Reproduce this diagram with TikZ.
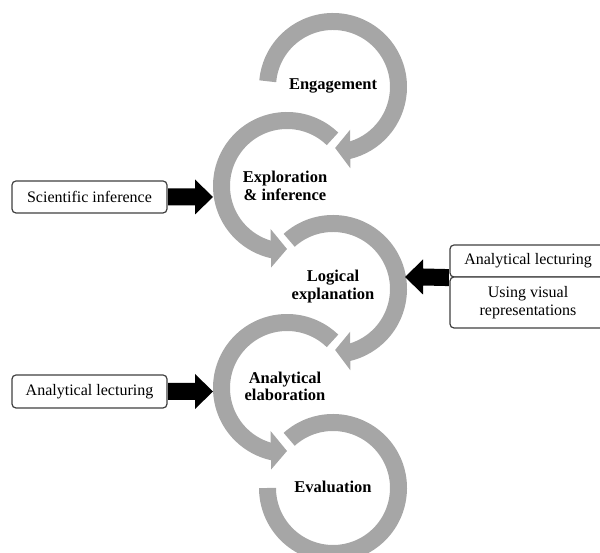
\documentclass[tikz,border=0pt]{standalone}
\usepackage{fontspec}
\setmainfont{Liberation Serif}
\usetikzlibrary{calc}
\definecolor{ringgray}{HTML}{A6A6A6}
\definecolor{boxline}{HTML}{404040}
\begin{document}
\begin{tikzpicture}[x=1pt,y=1pt,
  ring/.style={draw=ringgray, line width=17pt},
  ringhead/.style={fill=ringgray},
  stage/.style={font=\fontsize{16.5}{17.5}\selectfont\bfseries, align=center, inner sep=0pt},
  infobox/.style={draw=boxline, line width=1.2pt, rounded corners=4pt, fill=white,
    minimum width=155pt, inner sep=0pt, font=\fontsize{16}{18}\selectfont, align=center},
  blockarrow/.style={fill=black}]
\useasboundingbox (0,0) rectangle (600,553);
\clip (0,0) rectangle (600,553);

% ring centres
\coordinate (c1) at (333,466);
\coordinate (c2) at (287,367);
\coordinate (c3) at (333,264);
\coordinate (c4) at (287,165);
\coordinate (c5) at (333,65);

% Engagement ring (clockwise)
\draw[ring] ($(c1)+(175:65.5)$) arc[start angle=175, end angle=-77, radius=65.5];
\fill[ringhead] ($(c1)+(-68:46)$) -- ($(c1)+(-88:61)$) -- ($(c1)+(-78:83)$) -- cycle;

% Exploration ring (counter-clockwise)
\draw[ring] ($(c2)+(46:65.5)$) arc[start angle=46, end angle=258, radius=65.5];
\fill[ringhead] ($(c2)+(249:46)$) -- ($(c2)+(270:63)$) -- ($(c2)+(259:83)$) -- cycle;

% Logical ring (clockwise)
\draw[ring] ($(c3)+(132:65.5)$) arc[start angle=132, end angle=-77, radius=65.5];
\fill[ringhead] ($(c3)+(-68:46)$) -- ($(c3)+(-88:61)$) -- ($(c3)+(-78:83)$) -- cycle;

% Analytical elaboration ring (counter-clockwise)
\draw[ring] ($(c4)+(46:65.5)$) arc[start angle=46, end angle=258, radius=65.5];
\fill[ringhead] ($(c4)+(249:46)$) -- ($(c4)+(270:63)$) -- ($(c4)+(259:83)$) -- cycle;

% Evaluation ring
\draw[ring] ($(c5)+(132:65.5)$) arc[start angle=132, end angle=-180, radius=65.5];

% stage labels
\node[stage] (engage) at (333,467) {Engagement};
\node[stage] (explore) at (285,367) {Exploration\\\& inference};
\node[stage] (logic) at (333,266.5) {Logical\\explanation};
\node[stage] (elab) at (285,166.5) {Analytical\\elaboration};
\node[stage] (evalu) at (333,66) {Evaluation};

% side boxes
\node[infobox, minimum height=32pt] (sci) at (89.5,356) {Scientific inference};
\node[infobox, minimum height=33pt] (alect) at (89.5,161.5) {Analytical lecturing};
\node[infobox, minimum width=156pt, minimum height=32pt] (ralect) at (528,292) {Analytical lecturing};
\node[infobox, minimum width=156pt, minimum height=51pt] (visual) at (528,250.5) {Using visual\\representations};

% block arrows
\coordinate (t1) at (213,356);
\fill[blockarrow] ($(sci.east)+(0.6,8.5)$) -- ($(t1)+(-18,8.5)$) -- ($(t1)+(-18,17.5)$) -- (t1)
  -- ($(t1)+(-18,-17.5)$) -- ($(t1)+(-18,-8.5)$) -- ($(sci.east)+(0.6,-8.5)$) -- cycle;

\coordinate (t2) at (213,161.5);
\fill[blockarrow] ($(alect.east)+(0.6,8.5)$) -- ($(t2)+(-18,8.5)$) -- ($(t2)+(-18,17.5)$) -- (t2)
  -- ($(t2)+(-18,-17.5)$) -- ($(t2)+(-18,-8.5)$) -- ($(alect.east)+(0.6,-8.5)$) -- cycle;

\coordinate (t3) at (405,276);
\fill[blockarrow] ($(ralect.south west)+(-0.6,8.5)$) -- ($(t3)+(18,8.5)$) -- ($(t3)+(18,17.5)$) -- (t3)
  -- ($(t3)+(18,-17.5)$) -- ($(t3)+(18,-8.5)$) -- ($(ralect.south west)+(-0.6,-8.5)$) -- cycle;
\end{tikzpicture}
\end{document}
